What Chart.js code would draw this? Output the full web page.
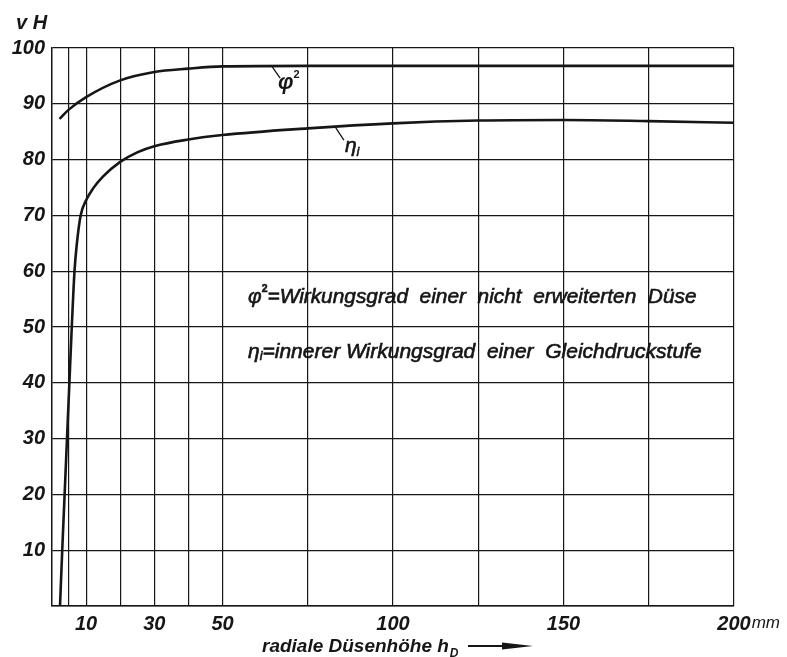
<!DOCTYPE html>
<html>
<head>
<meta charset="utf-8">
<title>Wirkungsgrad über radiale Düsenhöhe</title>
<script src="https://cdn.jsdelivr.net/npm/chart.js@4/dist/chart.umd.min.js"></script>
<style>
  html, body { margin: 0; padding: 0; background: #fff; }
  #wrap { width: 787px; height: 657px; position: relative; }
</style>
</head>
<body>
<div id="wrap"><canvas id="myChart"></canvas></div>
<script>
// radiale Düsenhöhe h_D in mm
const hdPhi = [2.2, 5, 10, 20, 30, 40, 50, 75, 100, 125, 150, 175, 200];
const phi2 = [87.3, 89.0, 91.2, 94.2, 95.7, 96.3, 96.7, 96.8, 96.8, 96.8, 96.8, 96.8, 96.8];

const hdEta = [2.35, 3.0, 3.7, 4.4, 5.1, 5.8, 6.6, 7.3, 8.4, 10, 12, 15, 20, 25, 30, 40, 50, 75, 100, 125, 150, 175, 200];
const etaI = [0, 10, 20, 30, 40, 50, 60, 65, 70, 72.7, 74.8, 77.0, 79.6, 81.3, 82.4, 83.6, 84.4, 85.6, 86.5, 87.0, 87.1, 86.9, 86.6];

const xGrid = [0, 5, 10, 20, 30, 40, 50, 75, 100, 125, 150, 175, 200];
const xLabels = [10, 30, 50, 100, 150, 200];
const yLabels = [10, 20, 30, 40, 50, 60, 70, 80, 90, 100];

const ink = '#161616';
const FAM = '"Liberation Sans", Arial, sans-serif';
const tickFont = { family: FAM, size: 20, style: 'italic', weight: 'bold' };

const toPoints = (xs, ys) => xs.map((v, i) => ({ x: v, y: ys[i] }));

// draws a run of text pieces (sub/superscripts), stretched to a given width
function drawRich(ctx, parts, x, y, width, heavy) {
  let total = 0;
  parts.forEach(p => {
    ctx.font = p.font;
    p.w = ctx.measureText(p.text).width;
    total += p.w;
  });
  const k = width ? width / total : 1;
  ctx.save();
  ctx.translate(x, y);
  ctx.scale(k, 1);
  ctx.lineWidth = heavy || 0;
  let cx = 0;
  parts.forEach(p => {
    ctx.font = p.font;
    ctx.fillText(p.text, cx, p.dy || 0);
    if (heavy) ctx.strokeText(p.text, cx, p.dy || 0);
    cx += p.w;
  });
  ctx.restore();
}

const notes = {
  id: 'notes',
  afterDraw(chart) {
    const { ctx, scales: { x, y } } = chart;
    const px = v => x.getPixelForValue(v);
    const py = v => y.getPixelForValue(v);
    ctx.save();
    ctx.fillStyle = ink;
    ctx.strokeStyle = ink;
    ctx.textBaseline = 'alphabetic';
    ctx.textAlign = 'left';

    // unit of the y axis
    ctx.font = `italic bold 20px ${FAM}`;
    ctx.fillText('v H', 16, 29);

    // unit after the last x tick
    ctx.font = `italic bold 20px ${FAM}`;
    const w200 = ctx.measureText('200').width;
    ctx.font = `italic 17px ${FAM}`;
    ctx.fillText('mm', px(200) + w200 / 2 + 1, 628);

    // x axis title with arrow
    ctx.font = `italic 600 19px ${FAM}`;
    const t = 'radiale Düsenhöhe h';
    ctx.fillText(t, 262, 652);
    const tw = ctx.measureText(t).width;
    ctx.font = `italic 600 12px ${FAM}`;
    ctx.fillText('D', 262 + tw + 1, 657);
    ctx.lineWidth = 1.8;
    ctx.beginPath();
    ctx.moveTo(468, 646);
    ctx.lineTo(510, 646);
    ctx.stroke();
    ctx.beginPath();
    ctx.moveTo(502, 642.5);
    ctx.lineTo(533, 646);
    ctx.lineTo(502, 649.5);
    ctx.closePath();
    ctx.fill();

    // curve labels with leader lines
    ctx.lineWidth = 1.3;
    ctx.beginPath();
    ctx.moveTo(px(64.4), py(96.8));
    ctx.lineTo(px(66.9), py(94.6));
    ctx.moveTo(px(83), py(85.9));
    ctx.lineTo(px(85.6), py(83.5));
    ctx.stroke();

    drawRich(ctx, [
      { text: 'φ', font: `italic bold 22px ${FAM}` },
      { text: '2', font: `bold 11px ${FAM}`, dy: -11 }
    ], px(66.3), py(92.6));
    drawRich(ctx, [
      { text: 'η', font: `italic 21px ${FAM}` },
      { text: 'i', font: `italic 13px ${FAM}`, dy: 4 }
    ], px(85.9), py(81.3), 0, 0.6);

    // explanation of the symbols
    ctx.textBaseline = 'middle';
    drawRich(ctx, [
      { text: 'φ', font: `italic 20px ${FAM}` },
      { text: '2', font: `bold 10px ${FAM}`, dy: -8 },
      { text: '=Wirkungsgrad  einer  nicht  erweiterten  Düse', font: `italic 20px ${FAM}` }
    ], px(57.5), py(55.3), px(189) - px(57.5), 0.6);
    drawRich(ctx, [
      { text: 'η', font: `italic 20px ${FAM}` },
      { text: 'i', font: `italic 12px ${FAM}`, dy: 5 },
      { text: '=innerer Wirkungsgrad  einer  Gleichdruckstufe', font: `italic 20px ${FAM}` }
    ], px(57.5), py(45.5), px(190.5) - px(57.5), 0.6);
    ctx.restore();
  }
};

const ctx = document.getElementById('myChart');
new Chart(ctx, {
  type: 'line',
  data: {
    datasets: [
      {
        label: 'φ²',
        data: toPoints(hdPhi, phi2),
        borderColor: ink,
        borderWidth: 2.6,
        pointRadius: 0,
        cubicInterpolationMode: 'monotone',
        fill: false
      },
      {
        label: 'ηi',
        data: toPoints(hdEta, etaI),
        borderColor: ink,
        borderWidth: 2.6,
        pointRadius: 0,
        cubicInterpolationMode: 'monotone',
        fill: false
      }
    ]
  },
  options: {
    responsive: true,
    maintainAspectRatio: false,
    animation: false,
    layout: { padding: { top: 48, right: 53, left: 0, bottom: 0 } },
    plugins: {
      legend: { display: false },
      tooltip: { enabled: false }
    },
    scales: {
      x: {
        type: 'linear',
        min: 0,
        max: 200,
        afterBuildTicks: s => { s.ticks = xGrid.map(v => ({ value: v })); },
        afterFit: s => { s.height = 51; },
        grid: { color: ink, lineWidth: 1.2, drawTicks: false },
        border: { color: ink, width: 1.4 },
        ticks: {
          autoSkip: false,
          maxRotation: 0,
          padding: 6,
          color: ink,
          font: tickFont,
          callback: v => (xLabels.includes(v) ? String(v) : '')
        }
      },
      y: {
        min: 0,
        max: 100,
        afterFit: s => { s.width = 52; },
        grid: { color: ink, lineWidth: 1.2, drawTicks: false },
        border: { color: ink, width: 1.4 },
        ticks: {
          stepSize: 10,
          padding: 7,
          color: ink,
          font: tickFont,
          callback: v => (yLabels.includes(v) ? String(v) : '')
        }
      }
    }
  },
  plugins: [notes]
});
</script>
</body>
</html>
